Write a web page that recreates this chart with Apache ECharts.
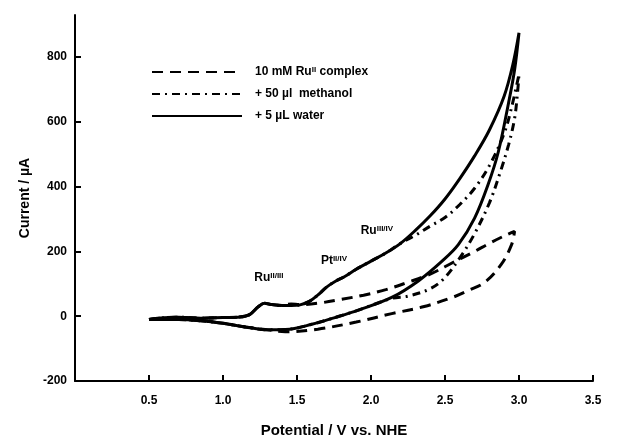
<!DOCTYPE html>
<html><head><meta charset="utf-8">
<script src="https://cdn.jsdelivr.net/npm/echarts@6/dist/echarts.min.js"></script>
<style>html,body{margin:0;padding:0;background:#fff}#c{width:632px;height:443px}</style>
</head><body><div id="c"></div>
<script>
// ---- data (Potential / V vs NHE, Current / µA) ----
const seriesNames = ['10 mM RuII complex', '+ 50 µl methanol', '+ 5 µL water'];
const xTicks = [0.5, 1.0, 1.5, 2.0, 2.5, 3.0, 3.5];
const yTicks = [-200, 0, 200, 400, 600, 800];

const ruV = [0.50,0.60,0.70,0.85,1.00,1.10,1.18,1.24,1.28,1.33,1.40,1.46,1.52,1.64,1.80,1.95,2.10,2.25,2.40,2.55,2.70,2.80,2.90,2.97,
             2.95,2.88,2.77,2.66,2.55,2.36,2.14,1.90,1.64,1.42,1.30,1.15,1.00,0.85,0.70,0.55,0.50];
const ruI = [-10,-5,-3,-6,-4,-3,5,30,40,36,33,38,36,40,52,65,82,105,130,165,200,225,248,262,
             221,160,105,80,58,30,8,-18,-40,-48,-42,-33,-22,-14,-10,-10,-10];

const meV = [0.50,0.60,0.70,0.85,1.00,1.10,1.18,1.24,1.28,1.33,1.40,1.46,1.52,1.58,1.64,1.70,1.76,1.82,1.90,2.00,2.10,2.20,2.30,2.40,2.50,2.60,2.70,2.80,2.90,2.95,3.00,
             2.99,2.97,2.93,2.87,2.80,2.70,2.60,2.49,2.40,2.25,2.14,1.91,1.75,1.60,1.45,1.30,1.15,1.00,0.85,0.70,0.55,0.50];
const meI = [-10,-5,-3,-6,-4,-3,5,30,40,36,33,33,35,45,65,90,108,122,145,170,195,225,250,278,305,345,395,465,565,645,747,
             690,610,530,440,350,255,180,115,85,62,55,18,-5,-25,-40,-42,-33,-22,-14,-10,-10,-10];

const waV = [0.50,0.60,0.70,0.85,1.00,1.10,1.18,1.24,1.28,1.33,1.40,1.46,1.52,1.58,1.64,1.70,1.76,1.82,1.90,2.00,2.10,2.20,2.30,2.40,2.50,2.60,2.70,2.80,2.90,2.96,3.00,
             2.97,2.93,2.86,2.79,2.70,2.59,2.48,2.32,2.14,1.91,1.75,1.60,1.45,1.30,1.15,1.00,0.85,0.70,0.55,0.50];
const waI = [-10,-5,-3,-6,-4,-3,5,30,40,36,33,33,35,45,65,90,108,122,145,170,195,225,265,310,362,425,495,575,680,780,875,
             760,660,507,405,303,221,170,109,58,18,-5,-25,-40,-42,-33,-22,-14,-10,-10,-10];

const peakLabels = ['Ru{s|II/III}', 'Pt{s|II/IV}', 'Ru{s|III/IV}'];
const peakV = [1.31, 1.75, 2.04];
const peakI = [119, 171, 263];

const zip = (a, b) => a.map((v, i) => [v, b[i]]);
const ink = '#000';
const font = '"Liberation Sans", Arial, sans-serif';
const legendRich = {
  '10 mM RuII complex': '10 mM Ru{s|II} complex',
  '+ 50 µl methanol': '+ 50 µl  methanol',
  '+ 5 µL water': '+ 5 µL water'
};

const chart = echarts.init(document.getElementById('c'), null, {renderer: 'canvas'});
chart.setOption({
  animation: false,
  backgroundColor: '#fff',
  grid: {left: 75, right: 39, top: 15, bottom: 58},
  legend: {
    data: seriesNames,
    orient: 'vertical',
    left: 146, top: 61,
    itemWidth: 90, itemHeight: 14, itemGap: 10,
    itemStyle: {opacity: 0},
    textStyle: {color: ink, fontFamily: font, fontWeight: 'bold', fontSize: 12, padding: [0,0,0,8],
      rich: {s: {fontSize: 8, fontWeight: 'bold', fontFamily: font, verticalAlign: 'top', color: ink}}},
    formatter: n => legendRich[n]
  },
  xAxis: {
    type: 'value', min: 0, max: 3.5, interval: 0.5,
    name: 'Potential / V vs. NHE', nameLocation: 'middle', nameGap: 42,
    nameTextStyle: {color: ink, fontFamily: font, fontSize: 15, fontWeight: 'bold'},
    axisLine: {onZero: false, lineStyle: {color: ink, width: 2}},
    axisTick: {inside: true, length: 6, lineStyle: {color: ink, width: 2}, customValues: xTicks},
    axisLabel: {color: ink, fontFamily: font, fontWeight: 'bold', fontSize: 12, margin: 14, customValues: xTicks,
      formatter: v => v.toFixed(1)},
    splitLine: {show: false}
  },
  yAxis: {
    type: 'value', min: -200, max: 930, interval: 200,
    name: 'Current / µA', nameLocation: 'middle', nameGap: 37, nameRotate: 90,
    nameTextStyle: {color: ink, fontFamily: font, fontSize: 14, fontWeight: 'bold'},
    axisLine: {onZero: false, lineStyle: {color: ink, width: 2}},
    axisTick: {inside: true, length: 6, lineStyle: {color: ink, width: 2}, customValues: yTicks.slice(1)},
    axisLabel: {color: ink, fontFamily: font, fontWeight: 'bold', fontSize: 12, margin: 8, customValues: yTicks},
    splitLine: {show: false}
  },
  series: [
    {name: seriesNames[0], type: 'line', data: zip(ruV, ruI), smooth: 0.35, symbol: 'none',
      lineStyle: {color: ink, width: 3, type: [11, 7]}, itemStyle: {color: ink}},
    {name: seriesNames[1], type: 'line', data: zip(meV, meI), smooth: 0.35, symbol: 'none',
      lineStyle: {color: ink, width: 3, type: [8, 5, 2, 5]}, itemStyle: {color: ink}},
    {name: seriesNames[2], type: 'line', data: zip(waV, waI), smooth: 0.35, symbol: 'none',
      lineStyle: {color: ink, width: 3}, itemStyle: {color: ink},
      markPoint: {
        symbol: 'circle', symbolSize: 1, itemStyle: {color: 'rgba(0,0,0,0)'},
        label: {show: true, position: 'inside', color: ink, fontFamily: font, fontWeight: 'bold', fontSize: 12,
          formatter: p => p.name,
          rich: {s: {fontSize: 8, fontWeight: 'bold', fontFamily: font, verticalAlign: 'top', color: ink}}},
        data: peakLabels.map((t, i) => ({name: t, coord: [peakV[i], peakI[i]]}))
      }}
  ]
});
</script></body></html>
